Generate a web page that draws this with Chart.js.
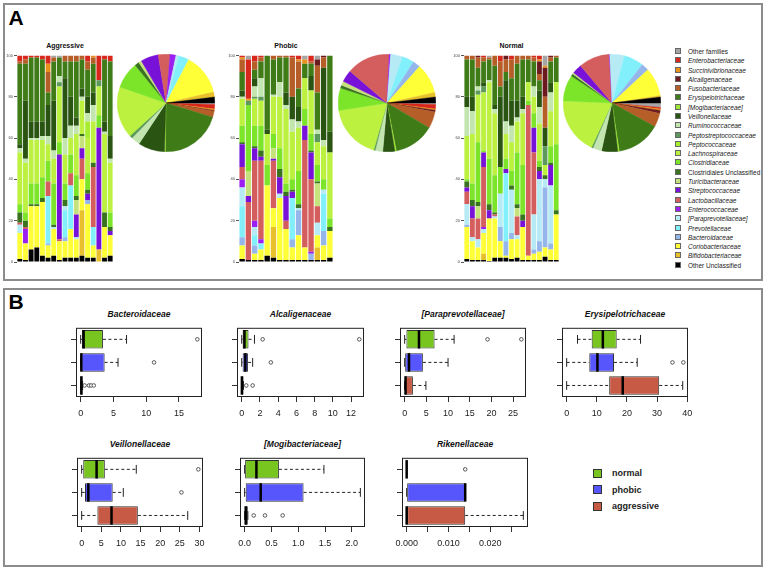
<!DOCTYPE html>
<html>
<head>
<meta charset="utf-8">
<script src="https://cdn.jsdelivr.net/npm/chart.js@4.4.1/dist/chart.umd.min.js"></script>
<style>
body{margin:0;background:#fff;font-family:'Liberation Sans',Arial,sans-serif;}
#page{position:relative;width:767px;height:572px;overflow:hidden;background:#fff;}
.frame{position:absolute;border:2px solid #8c8c8c;box-sizing:border-box;}
canvas{position:absolute;}
.txt{position:absolute;white-space:nowrap;line-height:1;transform:translate(-50%,-50%);color:#111;}
.lab{position:absolute;white-space:nowrap;line-height:1;transform:translateY(-50%);color:#222;}
.sq{position:absolute;box-sizing:border-box;}
</style>
</head>
<body>
<div id="page"></div>
<script>
// families, bottom of the stack first
const categories = ['Other Unclassified','Bifidobacteriaceae','Coriobacteriaceae','Bacteroidaceae','Prevotellaceae','[Paraprevotellaceae]','Enterococcaceae','Lactobacillaceae','Streptococcaceae','Turicibacteraceae','Clostridiales Unclassified','Clostridiaceae','Lachnospiraceae','Peptococcaceae','Peptostreptococcaceae','Ruminococcaceae','Veillonellaceae','[Mogibacteriaceae]','Erysipelotrichaceae','Fusobacteriaceae','Alcaligenaceae','Succinivibrionaceae','Enterobacteriaceae','Other families'];
const categoryColors = ['#000000','#e8c02c','#ffff38','#94b6ea','#82f0fa','#b6ebf5','#9a1ff0','#d45d5d','#7812d8','#c5e27d','#3a7320','#7ce52a','#bcf13f','#a6ee2f','#5d985d','#c3e6b1','#2a5411','#9fe636','#3f7c18','#b65e28','#6b1a1f','#e8921d','#d8271d','#a5a5a5'];
const plainNames = ['Other Unclassified','Clostridiales Unclassified','Other families'];
const barTicks = [0,20,40,60,80,100];

// relative abundance (%) per dog, one row per sample, in category order
const aggressiveSamples = [
  [1.5,0,12.5,0,0,4,0,1,0,0,5,4,25,0,0,2,2,0,39,1,0,0,3,0],
  [1,0,8,0,0,0,7,1,0,0,3,4,24,0,0,2,28,0,18,2,0,0,2,0],
  [6,0,21,0,0,0,0,0,0,0,1,10,21,0,0,1,8,0,31,0,0,0,1,0],
  [7,0,20,0,0,0,0,0,0,0,1,10,21,0,0,1,8,0,31,0,0,0,1,0],
  [3,0,26,0,0,0,0,0,0,0,2,10,18,0,0,2,7,0,30,0,0,0,2,0],
  [2,0,6,1,23,0,0,7,0,0,0,10,8,0,0,4,15,0,6,10,0,4,4,0],
  [3,0,13,0,0,1,0,0,0,0,1,20,12,0,0,4,24,0,19,2,0,0,0,1],
  [1,0,9,0,0,0,0,1,41,0,0,6,27,0,2,3,0,0,9,0,0,0,0,1],
  [2,0,8,2,13,2,0,0,0,0,3,8,14,0,0,8,29,0,8,3,0,0,0,0],
  [2,0,14,0,21,0,0,6,0,0,0,9,8,0,0,6,14,0,17,3,0,0,0,0],
  [2,0,9,0,0,1,0,0,11,7,2,10,20,0,0,4,4,0,27,3,0,0,0,0],
  [3,22,15,0,0,0,0,10,5,6,1,0,16,0,0,2,4,0,14,2,0,0,0,0],
  [2,0,26,2,0,0,0,0,3,0,2,8,17,8,0,4,8,0,13,4,0,0,3,0],
  [2,0,6,0,9,0,0,29,0,0,2,0,20,0,0,8,6,0,14,3,0,1,0,0],
  [0,6,0,0,0,0,0,0,59,0,0,6,14,0,3,0,0,0,0,0,0,0,12,0],
  [2,0,15,0,0,0,0,0,0,0,7,0,38,0,0,1,5,0,30,0,0,0,2,0],
  [3,0,10,0,0,0,0,0,2,0,2,7,24,0,0,2,11,0,36,0,0,0,3,0]
];
const phobicSamples = [
  [1.5,0,6.5,4,15,9,4,6,11,0,1,8,13,0,0,1,3,0,9,6,0,1,1,0],
  [1,0,0,0,0,0,0,28,3,12,0,32,0,0,2,0,0,0,0,0,0,1,19,2],
  [1,0,3,4,5,4,3,29,6,0,1,10,13,0,1,5,4,0,4,4,0,0,3,0],
  [1,0,5,0,3,0,2,38,2,0,3,12,12,0,2,9,0,0,8,2,0,0,1,0],
  [3,0,34,0,0,0,0,0,0,0,0,10,15,0,0,0,2,0,36,0,0,0,0,0],
  [2,15,9,0,0,0,0,23,1,5,0,7,18,0,0,1,0,0,17,2,0,0,0,0],
  [1,0,30,0,0,2,0,0,8,0,4,10,25,0,0,7,0,0,12,1,0,0,0,0],
  [1,0,15,0,0,0,0,4,12,0,2,4,36,0,0,2,6,0,17,1,0,0,0,0],
  [1,0,6,4,20,0,0,0,3,0,1,5,23,0,0,6,11,0,0,19,0,0,1,0],
  [1,0,12,12,0,1,0,0,0,0,2,16,21,0,0,3,7,0,9,13,0,1,2,0],
  [1,0,6,0,0,0,0,52,7,0,0,8,15,0,0,0,0,0,7,0,0,2,0,2],
  [1,0,0,3,0,0,1,35,13,0,1,8,21,0,0,0,7,0,6,1,0,0,3,0],
  [1,6,6,0,0,6,0,8,0,11,1,8,11,0,4,2,0,0,18,13,3,0,0,2],
  [1,0,7,7,18,2,0,0,0,0,0,5,16,0,0,3,35,0,0,5,1,0,0,0],
  [2,0,13,0,0,0,0,0,0,0,2,4,32,0,0,0,10,0,37,0,0,0,0,0]
];
const normalSamples = [
  [1.5,0,15.5,1,0,10,0,6,2,0,3,1,21,0,0,14,5,0,18,2,0,0,0,0],
  [1,0,9,0,0,2,0,9,6,0,3,8,24,0,0,11,7,0,18,2,0,0,0,0],
  [1,0,6,0,0,4,0,10,0,6,2,29,23,0,2,2,0,0,9,5,1,0,0,0],
  [1,3,10,0,0,2,1,29,7,0,0,1,28,0,3,0,2,0,10,2,0,0,1,0],
  [0.5,0,20.5,0,0,0,0,0,4,0,3,22,37,0,0,1,0,0,10,1,0,0,0,1],
  [2,0,19,0,0,1,0,1,0,0,1,18,30,0,0,2,2,0,19,5,0,0,0,0],
  [2,0,8,7,0,16,0,0,0,0,0,13,0,0,0,0,34,0,5,12,0,0,3,0],
  [2,0,1,7,33,0,0,0,2,0,0,5,12,0,0,6,20,0,4,6,2,0,0,0],
  [1.5,0,9.5,3,0,21,0,0,0,0,2,7,14,0,0,8,12,0,11,9,0,0,2,0],
  [2,0,9,0,0,2,0,9,0,4,2,25,15,0,0,2,8,0,18,4,0,0,0,0],
  [1,0,16,0,0,0,0,0,3,0,3,24,25,0,0,2,6,0,18,2,0,0,0,0],
  [1,0,2,0,0,0,0,73,0,0,0,2,9,0,0,0,0,0,11,2,0,0,0,0],
  [1,0,3,2,0,17,0,30,12,0,0,7,8,0,0,5,0,0,12,2,0,0,1,0],
  [1,0,4,5,0,30,0,0,4,0,2,3,18,0,0,8,8,0,5,3,6,1,2,0],
  [2.5,0,4.5,29,0,4,0,0,0,0,2,0,5,0,9,0,9,0,0,15,14,1,0,5],
  [1,0,5,3,0,28,0,0,10,0,1,8,17,0,0,9,5,0,10,2,1,0,0,0],
  [1,0,22,0,0,0,0,0,0,0,2,32,30,0,0,0,0,0,12,1,0,0,0,0]
];

// group means shown in the pies, same category order
const aggressivePie = [2,1.7,14,0,3.5,1,2,4,6,1,1.5,9,17,0.5,1,3,9,0.3,21,2,0.3,0.5,1.5,0.5];
const phobicPie = [2,1.5,10,2.5,4,4,0.5,14.5,4,1.4,1,7.5,18,0.3,0.5,2.5,4,0.5,13.6,5.5,0.6,0.4,1.5,0.5];
const normalPie = [2,0.5,9.7,2.5,6.7,5,0.2,10.5,3.3,0.5,0.8,8.9,19,0.3,0.5,3,5.5,0.5,15,4.7,1,0.5,0.5,1.5];

// panel B: [min, q1, median, q3, max] per family
const groups = ['normal','phobic','aggressive'];
const groupColors = ['#78c51f','#5656fc','#c75a45'];
const boxTitles = ['Bacteroidaceae','Alcaligenaceae','[Paraprevotellaceae]','Erysipelotrichaceae','Veillonellaceae','[Mogibacteriaceae]','Rikenellaceae'];
const normalStats = [[0,0.2,0.45,3.4,7.0],[0,0.1,0.3,0.75,1.4],[0,0.4,3.3,6.9,11.4],[3.6,8.3,12,16.6,24.5],[0,0.4,3.8,5.9,13.9],[0,0,0.22,0.64,1.48],[0,0,0,0,0]];
const phobicStats = [[0,0,0.1,3.66,5.7],[0,0.1,0.4,0.7,1.2],[0,0,1.0,4.2,10],[0,7.5,10.2,15.7,23.4],[0,0.85,1.7,7.9,10.6],[0,0.02,0.3,1.1,2.16],[0,0,0.014,0.014,0.014]];
const aggressiveStats = [[0,0,0.1,0.3,0.3],[0,0,0.02,0.2,0.2],[0,0,0.2,1.9,4.9],[0,14.1,18.6,30.7,38.5],[0,4.0,7.6,14.3,27.0],[0,0,0.02,0.06,0.06],[0,0,0,0.014,0.0279]];
const normalOutliers = [[17.8],[2.3,12.9],[19.1,26.9],[],[29.7],[],[0.014]];
const phobicOutliers = [[11.2],[3.2],[],[35.1,38.7],[25.4],[],[]];
const aggressiveOutliers = [[0.6,1.27,1.6,2.0],[0.5,1.2],[],[],[],[0.17,0.38,0.71],[]];
const boxTicks = [[0,5,10,15],[0,2,4,6,8,10,12],[0,5,10,15,20,25],[0,10,20,30,40],[0,5,10,15,20,25,30],[0,0.5,1,1.5,2],[0,0.005,0.01,0.015,0.02,0.025]];
const boxTickLabels = [['0','5','10','15'],['0','2','4','6','8','10','12'],['0','5','10','15','20','25'],['0','10','20','30','40'],['0','5','10','15','20','25','30'],['0.0','0.5','1.0','1.5','2.0'],['0.000','','0.010','','0.020','']];

Chart.defaults.font.family = "'Liberation Sans', Arial, sans-serif";
const page = document.getElementById('page');

function addBox(cls, left, top, w, h, css) {
    let d = document.createElement('div');
    d.className = cls;
    d.style.left = left + 'px'; d.style.top = top + 'px';
    d.style.width = w + 'px'; d.style.height = h + 'px';
    Object.assign(d.style, css || {});
    page.appendChild(d);
    return d;
}

function addText(str, x, y, css, cls) {
    let d = document.createElement('div');
    d.className = cls || 'txt';
    d.textContent = str;
    d.style.left = x + 'px'; d.style.top = y + 'px';
    Object.assign(d.style, css || {});
    page.appendChild(d);
    return d;
}

function addCanvas(left, top, w, h) {
    let c = document.createElement('canvas');
    c.width = w; c.height = h;
    c.style.left = left + 'px'; c.style.top = top + 'px';
    c.style.width = w + 'px'; c.style.height = h + 'px';
    page.appendChild(c);
    return c;
}

function drawComposition(samples, areaLeft, areaRight, title) {
    const axisW = 15;
    let canvas = addCanvas(areaLeft - axisW, 52, areaRight - areaLeft + axisW + 2, 214);
    new Chart(canvas, {
        type: 'bar',
        data: {
            labels: samples.map((s, i) => 'S' + (i + 1)),
            datasets: categories.map((name, k) => ({
                label: name,
                data: samples.map(s => s[k]),
                backgroundColor: categoryColors[k],
                borderWidth: 0,
                barPercentage: 0.86,
                categoryPercentage: 1
            }))
        },
        options: {
            responsive: false, animation: false, devicePixelRatio: 1,
            layout: {padding: {top: 3, bottom: 4, left: 0, right: 2}},
            plugins: {legend: {display: false}, tooltip: {enabled: false}},
            scales: {
                x: {stacked: true, display: false},
                y: {
                    stacked: true, min: 0, max: 100,
                    afterBuildTicks: ax => { ax.ticks = barTicks.map(v => ({value: v})); },
                    ticks: {font: {size: 4}, color: '#444', padding: 1},
                    grid: {drawOnChartArea: false, tickLength: 3, color: '#555'},
                    border: {display: false},
                    afterFit: ax => { ax.width = axisW; }
                }
            }
        }
    });
    addText(title, (areaLeft + areaRight) / 2, 45, {font: 'bold 7px "Liberation Sans", Arial, sans-serif'});
}

function drawPie(values, cx, cy, r) {
    let canvas = addCanvas(cx - r, cy - r, 2 * r, 2 * r);
    // R draws counter-clockwise from 3 o'clock, so reverse and start at 3 o'clock
    const colors = categoryColors.slice().reverse();
    new Chart(canvas, {
        type: 'pie',
        data: {
            labels: categories.slice().reverse(),
            datasets: [{data: values.slice().reverse(), backgroundColor: colors, borderColor: colors, borderWidth: 0.4}]
        },
        options: {
            responsive: false, animation: false, devicePixelRatio: 1, rotation: 90,
            layout: {padding: 0},
            plugins: {legend: {display: false}, tooltip: {enabled: false}}
        }
    });
}

function boxDecor(stats) {
    return {
        id: 'boxDecor',
        afterDatasetsDraw(chart) {
            const {ctx, chartArea: a, scales: {x, y}} = chart;
            const band = Math.abs(y.getPixelForValue(1) - y.getPixelForValue(0));
            const half = band * 0.4, cap = band * 0.19;
            ctx.save();
            stats.forEach((s, r) => {
                const yc = y.getPixelForValue(r);
                const px = s.map(v => x.getPixelForValue(v));
                ctx.strokeStyle = '#222'; ctx.lineWidth = 1;
                ctx.setLineDash([3, 2.5]);
                ctx.beginPath();
                ctx.moveTo(px[0], yc); ctx.lineTo(px[1], yc);
                ctx.moveTo(px[3], yc); ctx.lineTo(px[4], yc);
                ctx.stroke();
                ctx.setLineDash([]);
                ctx.beginPath();
                ctx.moveTo(px[0], yc - cap); ctx.lineTo(px[0], yc + cap);
                ctx.moveTo(px[4], yc - cap); ctx.lineTo(px[4], yc + cap);
                ctx.stroke();
                ctx.strokeStyle = '#000'; ctx.lineWidth = 2.5;
                ctx.beginPath();
                ctx.moveTo(px[2], yc - half); ctx.lineTo(px[2], yc + half);
                ctx.stroke();
            });
            ctx.strokeStyle = '#222'; ctx.lineWidth = 1;
            ctx.strokeRect(a.left + 0.5, a.top + 0.5, a.width - 1, a.height - 1);
            ctx.restore();
        }
    };
}

function drawBoxPanel(i, left, top, right, bottom) {
    const padL = 16, padR = 16, padT = 2, padB = 26;
    let canvas = addCanvas(left - padL, top - padT, right - left + padL + padR, bottom - top + padT + padB);
    const stats = [normalStats[i], phobicStats[i], aggressiveStats[i]];
    const outliers = [normalOutliers[i], phobicOutliers[i], aggressiveOutliers[i]];
    const all = stats.flat().concat(outliers.flat());
    const lo = Math.min(...all), hi = Math.max(...all);
    const ext = (hi - lo) * 0.04;

    new Chart(canvas, {
        type: 'bar',
        data: {
            labels: groups,
            datasets: [
                {
                    type: 'bar',
                    data: stats.map(s => [s[1], s[3]]),
                    backgroundColor: groupColors,
                    borderColor: '#333', borderWidth: 1, borderSkipped: false,
                    barPercentage: 0.8, categoryPercentage: 1
                },
                {
                    type: 'scatter',
                    data: outliers.flatMap((vals, r) => vals.map(v => ({x: v, y: groups[r]}))),
                    pointStyle: 'circle', pointRadius: 1.8, pointBorderWidth: 0.8,
                    pointBorderColor: '#333', pointBackgroundColor: '#fff'
                }
            ]
        },
        options: {
            indexAxis: 'y', responsive: false, animation: false, devicePixelRatio: 1,
            layout: {padding: {top: padT, right: padR, left: 0, bottom: 0}},
            plugins: {legend: {display: false}, tooltip: {enabled: false}},
            scales: {
                x: {
                    type: 'linear', min: lo - ext, max: hi + ext,
                    afterBuildTicks: ax => { ax.ticks = boxTicks[i].map(v => ({value: v})); },
                    ticks: {autoSkip: false, maxRotation: 0, padding: 6, color: '#222', font: {size: 9},
                        callback: (v, k) => boxTickLabels[i][k]},
                    grid: {drawOnChartArea: false, tickLength: 5, color: '#333'},
                    border: {display: false},
                    afterFit: ax => { ax.height = padB; }
                },
                y: {
                    type: 'category',
                    ticks: {display: false},
                    grid: {drawOnChartArea: false, offset: false, tickLength: 5, color: '#333'},
                    border: {display: false},
                    afterFit: ax => { ax.width = padL; }
                }
            }
        },
        plugins: [boxDecor(stats)]
    });
    addText(boxTitles[i], (left + right) / 2, top - 11, {font: 'italic bold 8.5px "Liberation Sans", Arial, sans-serif'});
}

// frames and panel letters
addBox('frame', 3, 3, 760, 278);
addBox('frame', 3, 288, 760, 279);
addText('A', 16, 18, {font: 'bold 21px "Liberation Sans", Arial, sans-serif', color: '#000'});
addText('B', 16, 302, {font: 'bold 21px "Liberation Sans", Arial, sans-serif', color: '#000'});

// panel A
drawComposition(aggressiveSamples, 17, 113, 'Aggressive');
drawComposition(phobicSamples, 239, 333, 'Phobic');
drawComposition(normalSamples, 464, 559, 'Normal');
drawPie(aggressivePie, 166, 103, 49);
drawPie(phobicPie, 387, 103, 49);
drawPie(normalPie, 612, 103, 49);

categories.slice().reverse().forEach((name, j) => {
    const k = categories.length - 1 - j;
    const yc = 51 + j * 9.29;
    addBox('sq', 675, yc - 3, 6, 6, {background: categoryColors[k], border: '0.5px solid #666'});
    addText(name, 688, yc, {
        font: (plainNames.includes(name) ? '' : 'italic ') + '6.5px "Liberation Sans", Arial, sans-serif'
    }, 'lab');
});

// panel B
drawBoxPanel(0, 76, 325, 202, 397);
drawBoxPanel(1, 237, 325, 364, 397);
drawBoxPanel(2, 400, 325, 526, 397);
drawBoxPanel(3, 562, 325, 688, 397);
drawBoxPanel(4, 77, 455, 203, 527);
drawBoxPanel(5, 240, 455, 365, 527);
drawBoxPanel(6, 402, 455, 528, 527);

groups.forEach((g, r) => {
    const yc = 473 + r * 16.5;
    addBox('sq', 593, yc - 4.5, 9, 9, {background: groupColors[r], border: '1px solid #333'});
    addText(g, 612, yc, {font: 'bold 9px "Liberation Sans", Arial, sans-serif'}, 'lab');
});
</script>
</body>
</html>
